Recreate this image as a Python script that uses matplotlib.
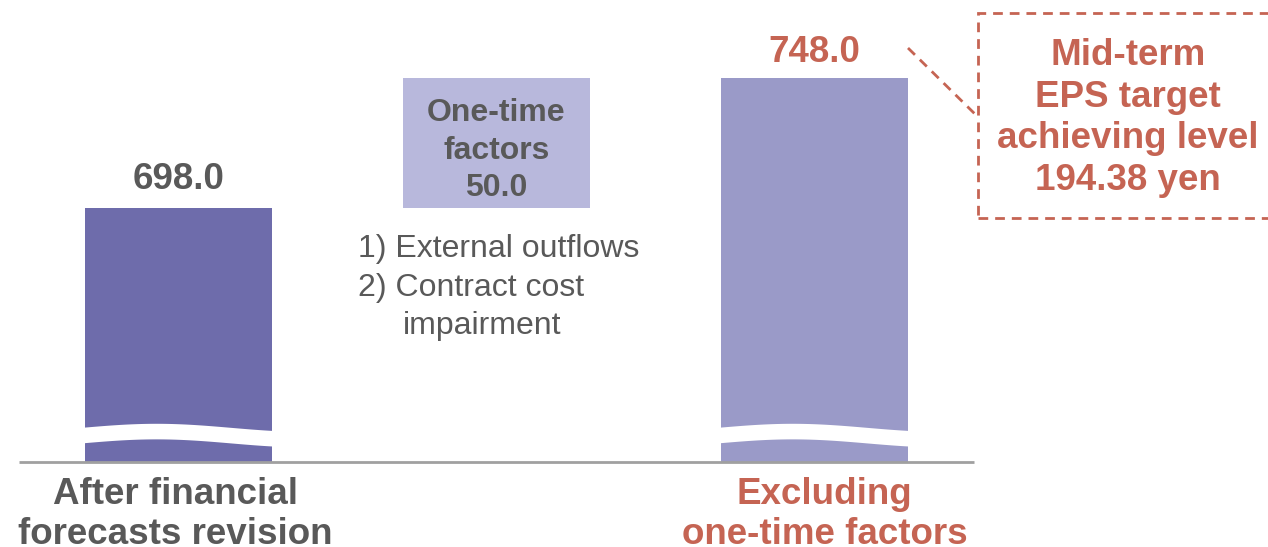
import numpy as np
import matplotlib
matplotlib.use("Agg")
import matplotlib.pyplot as plt
from matplotlib.patches import Rectangle
from matplotlib.lines import Line2D

plt.rcParams['font.family'] = ['Liberation Sans', 'DejaVu Sans']

# data
labels = ["After financial\nforecasts revision", "", "Excluding\none-time factors"]
values = [698.0, 50.0, 748.0]
value_text = ["698.0", "One-time\nfactors\n50.0", "748.0"]
note_lines = ["1) External outflows", "2) Contract cost", "impairment"]
target_text = "Mid-term\nEPS target\nachieving level\n194.38 yen"
axis_base = 600.0   # broken axis starts here

grey = "#595959"
red = "#C56453"
c_before = "#6E6CAB"
c_onetime = "#B8B8DC"
c_after = "#9A9AC8"

fig = plt.figure(figsize=(12.68, 5.47), dpi=100)
ax = fig.add_axes([0, 0, 1, 1])
ax.set_xlim(-0.561, 3.426)
ax.set_ylim(567.3, 778.0)
ax.axis("off")

x = np.arange(3)
w = 0.588
bottoms = [axis_base, values[0], axis_base]
heights = [values[0] - axis_base, values[1], values[2] - axis_base]
ax.bar(x, heights, bottom=bottoms, width=w,
       color=[c_before, c_onetime, c_after], zorder=2)

# wavy break on the full bars
t = np.linspace(0, 1, 200)
for i in [0, 2]:
    xs = x[i] - w / 2 - 0.01 + t * (w + 0.02)
    yc = 610.4 + 1.55 * np.sin(1.3 * np.pi * t)
    ax.fill_between(xs, yc - 3.0, yc + 3.0, color="white", lw=0, zorder=3)

# baseline
ax.plot([-0.5, 2.5], [axis_base, axis_base], color="#A0A0A0", lw=2, zorder=4,
        solid_capstyle="butt")

# value labels
ax.annotate(value_text[0], (x[0], values[0]), xytext=(0, 28),
            textcoords="offset pixels", ha="center", va="center",
            fontsize=26.5, fontweight="bold", color=grey)
ax.annotate(value_text[2], (x[2], values[2]), xytext=(0, 25),
            textcoords="offset pixels", ha="center", va="center",
            fontsize=26.5, fontweight="bold", color=red)
ax.text(x[1], values[0] + values[1] / 2 - 3.0, value_text[1], ha="center",
        va="center", fontsize=23, fontweight="bold", color=grey,
        linespacing=1.32, zorder=5)

# notes under one-time factors
note_x = 1 - 138.5 / 318.25
ax.text(note_x, 778 - 249 / 2.6, note_lines[0], ha="left", va="center",
        fontsize=23, color=grey)
ax.text(note_x, 778 - 288 / 2.6, note_lines[1], ha="left", va="center",
        fontsize=23, color=grey)
ax.text(note_x + 45 / 318.25, 778 - 326 / 2.6, note_lines[2], ha="left",
        va="center", fontsize=23, color=grey)

# category labels
ax.text(x[0] - 3 / 318.25, 778 - 515 / 2.6, labels[0], ha="center",
        va="center", fontsize=26.5, fontweight="bold", color=grey,
        linespacing=1.17)
ax.text(x[2] + 10 / 318.25, 778 - 515 / 2.6, labels[2], ha="center",
        va="center", fontsize=26.5, fontweight="bold", color=red,
        linespacing=1.17)

# target call-out box
fig.patches.append(Rectangle((978 / 1268, 1 - 218 / 547), 0.3, 205 / 547,
                             transform=fig.transFigure, fill=False,
                             edgecolor=red, lw=2, linestyle=(0, (3.5, 2.5))))
fig.lines.append(Line2D([908 / 1268, 978 / 1268], [1 - 48 / 547, 1 - 117 / 547],
                        transform=fig.transFigure, color=red, lw=2,
                        linestyle=(0, (3.5, 2.5))))
fig.text(1128 / 1268, 1 - 118 / 547, target_text, ha="center", va="center",
         fontsize=26.5, fontweight="bold", color=red, linespacing=1.245)

fig.savefig("out.png", dpi=100)
